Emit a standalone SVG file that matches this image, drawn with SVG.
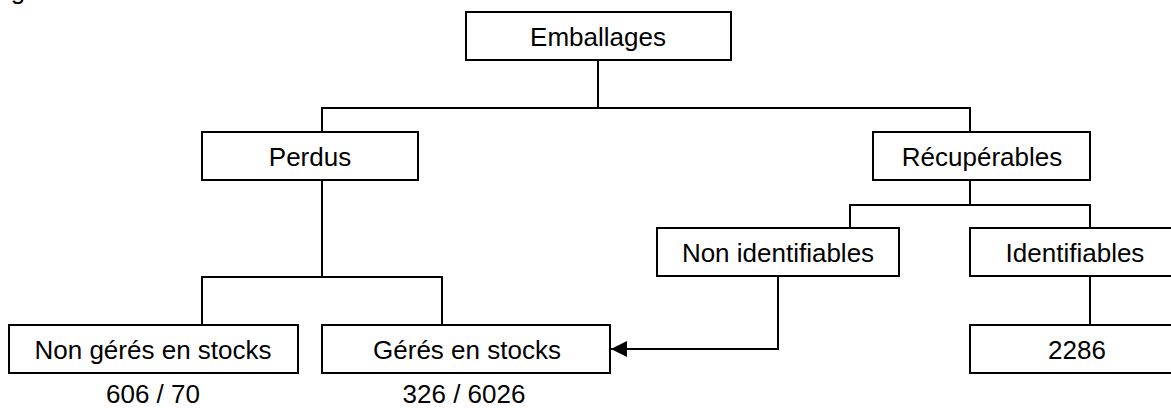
<svg xmlns="http://www.w3.org/2000/svg" width="1171" height="408" viewBox="0 0 1171 408">
<style>
.box{fill:#fff;stroke:#000;stroke-width:2}
.lbl{font-family:"Liberation Sans",Arial,sans-serif;font-size:26px;fill:#000;text-anchor:middle}
.ln{fill:none;stroke:#000;stroke-width:2}
</style>
<defs>
<marker id="ah" markerWidth="16" markerHeight="16" refX="16" refY="8" orient="auto" markerUnits="userSpaceOnUse">
<path d="M0,0 L16,8 L0,16 Z" fill="#000"/>
</marker>
</defs>
<rect width="1171" height="408" fill="#fff"/>
<text class="lbl" x="18" y="-1.5">g</text>
<g id="connectors">
<path class="ln" d="M598,60 V108"/>
<path class="ln" d="M322,132 V108 H970 V132"/>
<path class="ln" d="M322,180 V277"/>
<path class="ln" d="M202,325 V277 H442 V325"/>
<path class="ln" d="M970,180 V205"/>
<path class="ln" d="M850,228 V205 H1090 V228"/>
<path class="ln" d="M1090,276 V325"/>
<path class="ln" d="M778,277 V349 H611" marker-end="url(#ah)"/>
</g>
<g id="emballages"><rect class="box" x="466" y="12" width="265" height="48"/><text class="lbl" x="598" y="46">Emballages</text></g>
<g id="perdus"><rect class="box" x="202" y="132" width="216" height="48"/><text class="lbl" x="310" y="166">Perdus</text></g>
<g id="recuperables"><rect class="box" x="873" y="132" width="217" height="48"/><text class="lbl" x="982" y="166">Récupérables</text></g>
<g id="non-identifiables"><rect class="box" x="657" y="228" width="242" height="48"/><text class="lbl" x="778" y="262">Non identifiables</text></g>
<g id="identifiables"><rect class="box" x="970" y="228" width="210" height="48"/><text class="lbl" x="1075" y="262">Identifiables</text></g>
<g id="non-geres"><rect class="box" x="9" y="325" width="289" height="48"/><text class="lbl" x="153" y="359">Non gérés en stocks</text></g>
<g id="geres"><rect class="box" x="322" y="325" width="288" height="48"/><text class="lbl" x="467" y="359">Gérés en stocks</text></g>
<g id="n2286"><rect class="box" x="970" y="325" width="212" height="48"/><text class="lbl" x="1077" y="359">2286</text></g>
<g id="labels">
<text class="lbl" x="153" y="403">606 / 70</text>
<text class="lbl" x="464" y="403">326 / 6026</text>
</g>
</svg>
